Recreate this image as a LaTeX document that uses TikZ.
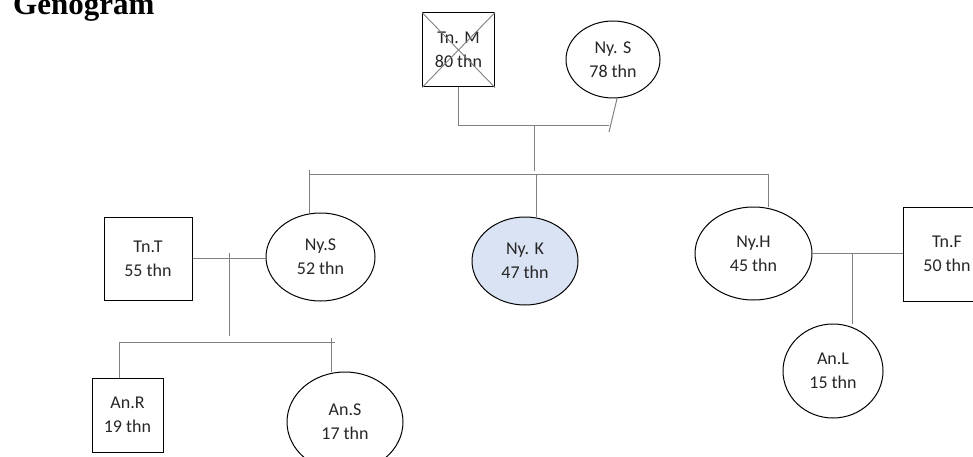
\documentclass[tikz,border=0pt]{standalone}
\usepackage{fontspec}
\setmainfont{Carlito}
\newfontfamily\titlefont{Liberation Serif}
\usetikzlibrary{shapes.geometric}
\definecolor{conncol}{RGB}{128,128,128}
\definecolor{kfill}{RGB}{218,227,243}
\tikzset{
  person/.style={draw=black, line width=1pt, inner sep=0pt, align=center,
    font=\fontsize{18}{24}\selectfont, text=black!85},
  male/.style={person, rectangle},
  female/.style={person, ellipse},
  conn/.style={draw=conncol, line width=1pt},
  crossline/.style={draw=conncol, line width=0.9pt},
}
\begin{document}
\begin{tikzpicture}[x=1pt, y=-1pt]
\useasboundingbox (0,0) rectangle (973,457);
\clip (0,0) rectangle (973,457);
\node[anchor=base west, inner sep=0pt, font=\titlefont\bfseries\fontsize{31}{36}\selectfont] (title) at (13,15) {Genogram};

% generation 1
\node[male, minimum width=72pt, minimum height=74pt] (tnm) at (458.5,50) {Tn. M\\80 thn};
\draw[crossline] (tnm.north west) -- (tnm.south east) (tnm.north east) -- (tnm.south west);
\node[female, minimum width=94pt, minimum height=77pt] (nys1) at (613,59.5) {Ny. S\\78 thn};

% generation 2
\node[male, minimum width=88pt, minimum height=83pt] (tnt) at (148,258.5) {Tn.T\\55 thn};
\node[female, minimum width=109pt, minimum height=88pt] (nys2) at (320.5,257) {Ny.S\\52 thn};
\node[female, fill=kfill, minimum width=106pt, minimum height=88pt] (nyk) at (525,261) {Ny. K\\47 thn};
\node[female, minimum width=117pt, minimum height=93pt] (nyh) at (753.5,253.5) {Ny.H\\45 thn};
\node[male, minimum width=88pt, minimum height=94pt] (tnf) at (947,254) {Tn.F\\50 thn};

% generation 3
\node[male, minimum width=71pt, minimum height=74pt] (anr) at (127.5,415) {An.R\\19 thn};
\node[female, minimum width=116pt, minimum height=100pt] (ans) at (345,422) {An.S\\17 thn};
\node[female, minimum width=100pt, minimum height=94pt] (anl) at (833,371) {An.L\\15 thn};

% coordinates
\coordinate (mr) at (609,126);
\coordinate (nsend) at (609,132);
\coordinate (m1) at (534,126);
\coordinate (m1b) at (534,171);
\coordinate (s0) at (309,170);
\coordinate (sl) at (309,174);
\coordinate (sr) at (768,174);
\coordinate (sk) at (536,174);
\coordinate (c1a) at (229,253);
\coordinate (c1b) at (229,336);
\coordinate (h1l) at (119,342);
\coordinate (h1r) at (335,342);
\coordinate (asv) at (331,338);
\coordinate (c2) at (852,253);

% connectors
\draw[conn] (tnm.south) |- (mr);
\draw[conn] (nys1.-84) -- (nsend);
\draw[conn] (m1) -- (m1b);
\draw[conn] (sl) -- (sr);
\draw[conn] (s0) -- (s0 |- nys2.north);
\draw[conn] (sk) -- (sk |- nyk.north);
\draw[conn] (sr) -- (sr |- nyh.north);
\draw[conn] (tnt.east) -- (tnt.east -| nys2.west);
\draw[conn] (c1a) -- (c1b);
\draw[conn] (h1l) -- (h1r);
\draw[conn] (h1l) -- (h1l |- anr.north);
\draw[conn] (asv) -- (asv |- ans.north);
\draw[conn] (nyh.east) -- (nyh.east -| tnf.west);
\draw[conn] (c2) -- (c2 |- anl.north);
\end{tikzpicture}
\end{document}
